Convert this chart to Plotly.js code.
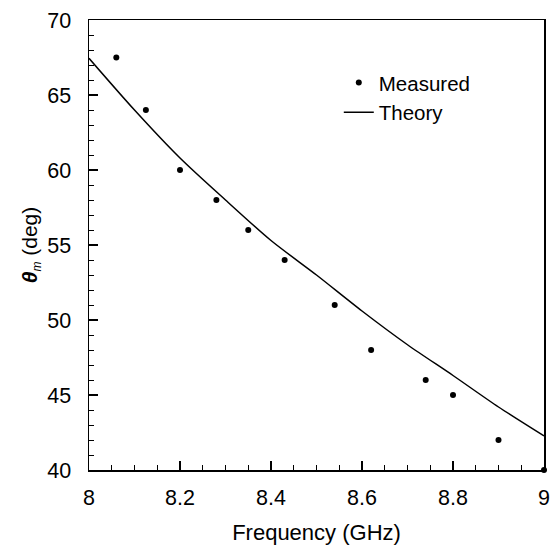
<!DOCTYPE html>
<html>
<head>
<meta charset="utf-8">
<script src="https://cdn.plot.ly/plotly-3.0.1.min.js"></script>
<style>html,body{margin:0;padding:0;background:#fff;}#chart{width:550px;height:545px;}</style>
</head>
<body>
<div id="chart"></div>
<script>
// Measured points
const measFreq = [8.06, 8.125, 8.2, 8.28, 8.35, 8.43, 8.54, 8.62, 8.74, 8.8, 8.9, 9.0];
const measAngle = [67.5, 64.0, 60.0, 58.0, 56.0, 54.0, 51.0, 48.0, 46.0, 45.0, 42.0, 40.0];
// Theory curve
const theoryFreq = [8.0, 8.1, 8.2, 8.3, 8.4, 8.5, 8.6, 8.7, 8.8, 8.9, 9.0];
const theoryAngle = [67.45, 64.0, 60.8, 58.0, 55.3, 53.0, 50.6, 48.35, 46.3, 44.2, 42.27];
// Tick labels
const xTicks = [8, 8.2, 8.4, 8.6, 8.8, 9];
const xTickText = ['8', '8.2', '8.4', '8.6', '8.8', '9'];
const yTicks = [40, 45, 50, 55, 60, 65, 70];
const yTickText = ['40', '45', '50', '55', '60', '65', '70'];

const FONT = 'Liberation Sans, Arial, Helvetica, sans-serif';

const traces = [
  {
    x: measFreq, y: measAngle, name: 'Measured', type: 'scatter', mode: 'markers',
    marker: {color: '#000', size: 6, symbol: 'circle'}, cliponaxis: false
  },
  {
    x: theoryFreq, y: theoryAngle, name: 'Theory', type: 'scatter', mode: 'lines',
    line: {color: '#000', width: 1.5, shape: 'spline', smoothing: 0.8}
  }
];

const axisCommon = {
  showgrid: false, zeroline: false, showline: true, linecolor: '#000', linewidth: 1.5,
  mirror: true, ticks: 'inside', ticklen: 9, tickwidth: 1.3, tickcolor: '#000',
  tickfont: {family: FONT, size: 21.5, color: '#000'}
};

const layout = {
  width: 550, height: 545,
  margin: {l: 89, r: 6, t: 20, b: 75},
  paper_bgcolor: '#fff', plot_bgcolor: '#fff',
  font: {family: FONT, color: '#000'},
  showlegend: true,
  legend: {
    x: 0.549, y: 0.905, xanchor: 'left', yanchor: 'top',
    bgcolor: 'rgba(0,0,0,0)', borderwidth: 0,
    font: {family: FONT, size: 20.5, color: '#000'},
    itemwidth: 30, tracegroupgap: 0
  },
  xaxis: Object.assign({}, axisCommon, {
    range: [8, 9], tickvals: xTicks, ticktext: xTickText,
    minor: {dtick: 0.05, ticks: 'inside', ticklen: 5, tickwidth: 1, tickcolor: '#000'},
    ticklabelstandoff: 8,
    title: {text: 'Frequency (GHz)', font: {family: FONT, size: 22, color: '#000'}, standoff: 17}
  }),
  yaxis: Object.assign({}, axisCommon, {
    range: [40, 70], tickvals: yTicks, ticktext: yTickText,
    minor: {dtick: 1, ticks: 'inside', ticklen: 5, tickwidth: 1, tickcolor: '#000'},
    ticklabelstandoff: 12,
    title: {text: '<b><i>θ</i></b><sub><i><span style="font-size:12px">m</span></i></sub> (deg)', font: {family: FONT, size: 21, color: '#000'}, standoff: 4}
  })
};

Plotly.newPlot('chart', traces, layout, {displayModeBar: false, staticPlot: true});
</script>
</body>
</html>
